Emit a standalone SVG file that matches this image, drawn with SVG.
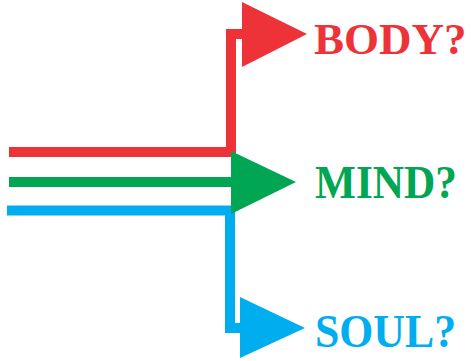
<svg xmlns="http://www.w3.org/2000/svg" width="471" height="361" viewBox="0 0 471 361">
<style>
.line{fill:none;stroke-width:10;stroke-linejoin:miter;stroke-linecap:butt}
.lbl{font-family:"Liberation Serif","Times New Roman",serif;font-weight:bold;font-size:46px}
.red{stroke:#EE3338}.green{stroke:#00A651}.blue{stroke:#00AEEF}
</style>
<rect width="471" height="361" fill="#fff"/>
<g id="connectors">
<path class="line red" d="M9 152H231V34H244"/>
<polygon points="242,2 307,34 242,67" fill="#EE3338"/>
<path class="line blue" d="M7 210.5H230V328H242"/>
<polygon points="240,297 305,328 240,358" fill="#00AEEF"/>
<path class="line green" d="M9 182H233"/>
<polygon points="231,151 296,182 231,214" fill="#00A651"/>
</g>
<g id="body"><text class="lbl" x="314" y="54" fill="#EE3338" style="font-size:45px">BODY?</text></g>
<g id="mind"><text class="lbl" x="315" y="198" fill="#00A651" textLength="142" lengthAdjust="spacingAndGlyphs">MIND?</text></g>
<g id="soul"><text class="lbl" x="315" y="347" fill="#00AEEF" textLength="141" lengthAdjust="spacingAndGlyphs">SOUL?</text></g>
</svg>
